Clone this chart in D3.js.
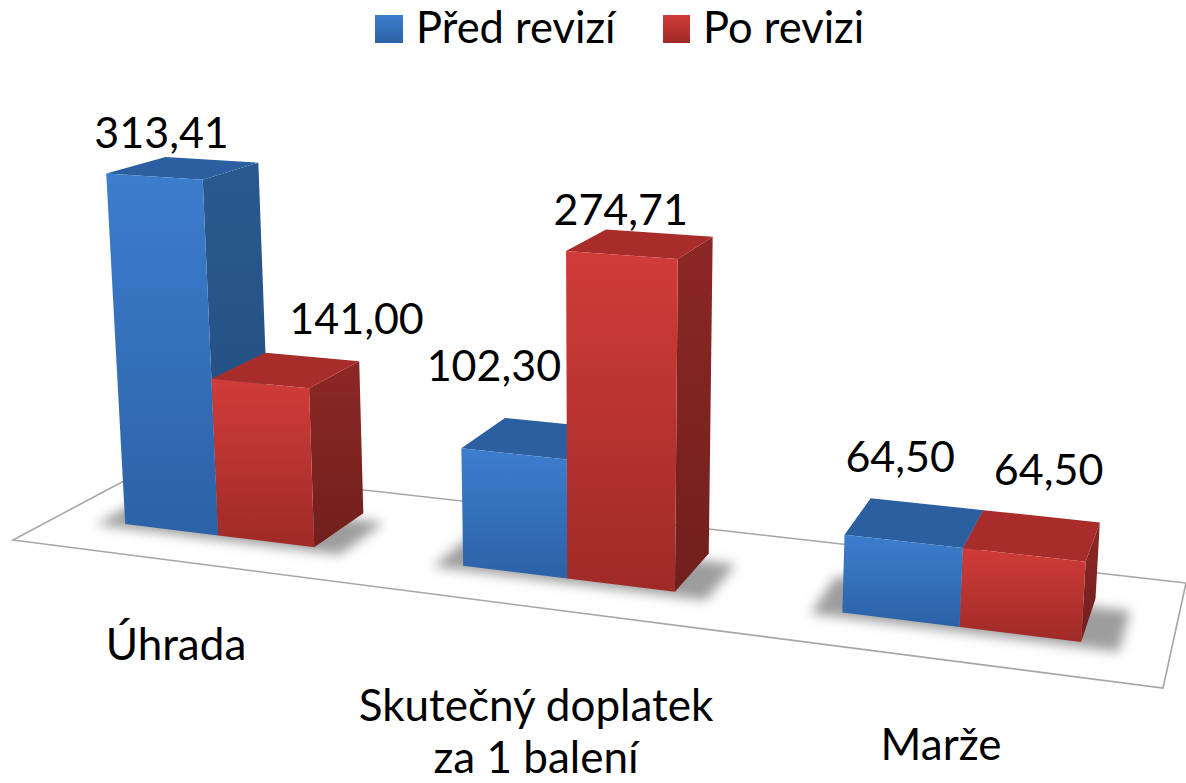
<!DOCTYPE html>
<html lang="cs">
<head>
<meta charset="utf-8">
<title>Před revizí / Po revizi</title>
<script src="https://cdn.jsdelivr.net/npm/d3@7/dist/d3.min.js"></script>
<style>
html,body{margin:0;padding:0;background:#fff;overflow:hidden}
svg{display:block}
text{font-family:Lato,"Noto Sans",sans-serif;fill:#000}
</style>
</head>
<body>
<svg id="chart" width="1186" height="783"></svg>
<script>
// ---- data ----
const categories = ["Úhrada", "Skutečný doplatek za 1 balení", "Marže"];
const seriesNames = ["Před revizí", "Po revizi"];
const beforeValues = [313.41, 102.30, 64.50];
const afterValues  = [141.00, 274.71, 64.50];
const categoryLines = [["Úhrada"], ["Skutečný doplatek", "za 1 balení"], ["Marže"]];

// ---- layout / styles (not data) ----
const width = 1186, height = 783;
const floorCorners = [[13,540],[1163,688],[1186,583],[152,466]];
const verticalVanishing = [600, 9300];
const heightKMax = 0.0393;
const labelOffsets = [[[-22,-19.5],[70,-35.5]],[[-41,-57],[-20,-19]],[[-15,-50.7],[16,-49.7]]];
const categoryAnchors = [[176,660],[536,721],[941,760]];
const palette = [
  {top:"#2b5f9f", side:["#29598f","#234e7e"], front:["#3d7dce","#2c62a6"]},
  {top:"#a82c29", side:["#8c2825","#701f1d"], front:["#d03c39","#9f2a27"]}
];

const series = [beforeValues, afterValues];
const fmt = d3.formatLocale({decimal:",",thousands:" ",grouping:[3],currency:["","Kč"]}).format(".2f");

// floor homography: unit square (u along categories, v in depth) -> screen
const [p0,p1,p2,p3] = floorCorners;
const dx1=p1[0]-p2[0], dx2=p3[0]-p2[0], sx=p0[0]-p1[0]+p2[0]-p3[0];
const dy1=p1[1]-p2[1], dy2=p3[1]-p2[1], sy=p0[1]-p1[1]+p2[1]-p3[1];
const det=dx1*dy2-dx2*dy1;
const G=(sx*dy2-dx2*sy)/det, I=(dx1*sy-sx*dy1)/det;
const A=p1[0]-p0[0]+G*p1[0], B=p3[0]-p0[0]+I*p3[0];
const D=p1[1]-p0[1]+G*p1[1], E=p3[1]-p0[1]+I*p3[1];

const hScale = d3.scaleLinear().domain([0, d3.max(beforeValues)]).range([0, heightKMax]);
function project(u, v, value){
  const w = 1 + G*u + I*v;
  const x = (A*u + B*v + p0[0]) / w, y = (D*u + E*v + p0[1]) / w;
  const s = hScale(value) / w, t = s / (1 - s);
  return [x + (x-verticalVanishing[0])*t, y + (y-verticalVanishing[1])*t];
}

const uGroup = d3.scaleBand().domain(categories).range([-0.001,1.003]).paddingInner(0.427).paddingOuter(0.2135);
const uSeries = d3.scaleBand().domain(seriesNames).range([0, uGroup.bandwidth()]);
const vFront = 0.305, vBack = 0.73;

const svg = d3.select("#chart");
const defs = svg.append("defs");
const grad = (id, stops) => {
  const g = defs.append("linearGradient").attr("id",id).attr("x1",0).attr("y1",0).attr("x2",0).attr("y2",1);
  stops.forEach((c,i)=>g.append("stop").attr("offset",i/(stops.length-1)).attr("stop-color",c));
};
palette.forEach((p,i)=>{ grad("front"+i,p.front); grad("side"+i,p.side); });
defs.append("filter").attr("id","blurShadow").attr("x","-20%").attr("y","-40%").attr("width","140%").attr("height","180%")
  .append("feGaussianBlur").attr("stdDeviation",6);

const poly = d3.line().curve(d3.curveLinearClosed);

// floor
svg.append("path").attr("d",poly(floorCorners)).attr("fill","#fff").attr("stroke","#a6a6a6").attr("stroke-width",1.6);

// shadows
const groupsG = svg.append("g");
categories.forEach(c=>{
  const u0=uGroup(c)-0.024, u1=uGroup(c)+uGroup.bandwidth()+0.03, v0=vFront-0.045, v1=vBack-0.08;
  groupsG.append("path")
    .attr("d",poly([project(u0,v0,0),project(u1,v0,0),project(u1,v1,0),project(u0,v1,0)]))
    .attr("fill","#9d9d9d").attr("filter","url(#blurShadow)");
});

// bars
const bars = categories.flatMap((c,ci)=>seriesNames.map((s,si)=>({c,ci,s,si,value:series[si][ci]})));
const barG = svg.append("g").selectAll("g").data(bars).join("g");
const corner = (d,side,depth,val) => {
  const u = uGroup(d.c)+uSeries(d.s)+(side?uSeries.bandwidth():0);
  return project(u, depth?vBack:vFront, val);
};
barG.append("path").attr("d",d=>poly([corner(d,1,0,0),corner(d,1,1,0),corner(d,1,1,d.value),corner(d,1,0,d.value)]))
  .attr("fill",d=>`url(#side${d.si})`);
barG.append("path").attr("d",d=>poly([corner(d,0,0,d.value),corner(d,1,0,d.value),corner(d,1,1,d.value),corner(d,0,1,d.value)]))
  .attr("fill",d=>palette[d.si].top);
barG.append("path").attr("d",d=>poly([corner(d,0,0,0),corner(d,1,0,0),corner(d,1,0,d.value),corner(d,0,0,d.value)]))
  .attr("fill",d=>`url(#front${d.si})`);

// value labels
barG.append("text").attr("text-anchor","middle").attr("font-size",43)
  .attr("transform",d=>{
    const u=uGroup(d.c)+uSeries(d.s)+uSeries.bandwidth()/2;
    const [x,y]=project(u,(vFront+vBack)/2,d.value);
    const o=labelOffsets[d.ci][d.si];
    return `translate(${x+o[0]},${y+o[1]})`;
  })
  .text(d=>fmt(d.value));

// category labels
categoryLines.forEach((lines,i)=>{
  lines.forEach((ln,j)=>{
    svg.append("text").attr("class","cat").attr("text-anchor","middle").attr("font-size",44)
      .attr("x",categoryAnchors[i][0]).attr("y",categoryAnchors[i][1]+j*52).text(ln);
  });
});

// legend
const legendX = [375, 663];
const legend = svg.append("g").selectAll("g").data(seriesNames).join("g")
  .attr("transform",(d,i)=>`translate(${legendX[i]},15)`);
legend.append("rect").attr("width",(d,i)=>i?27:28).attr("height",28).attr("fill",(d,i)=>`url(#front${i})`);
legend.append("text").attr("x",(d,i)=>i?40:41).attr("y",28).attr("font-size",43.5).text(d=>d);
</script>
</body>
</html>
